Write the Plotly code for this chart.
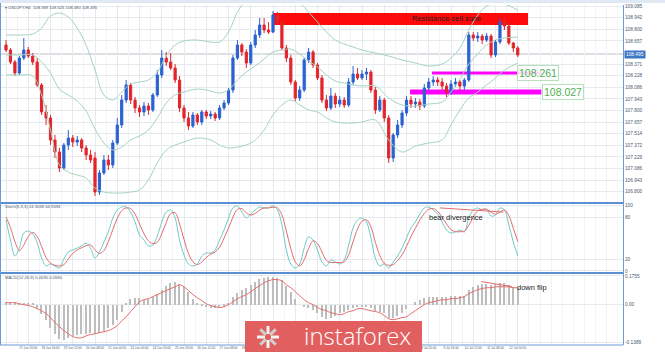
import math
import plotly.graph_objects as go
from plotly.subplots import make_subplots

bars = list(range(116))

open_ = [108.606,108.544,108.396,108.261,108.446,108.544,108.470,108.396,108.114,107.782,
107.708,107.437,107.289,107.093,107.375,107.462,107.412,107.437,107.339,107.253,
107.216,106.797,107.031,107.191,107.130,107.400,107.622,107.929,108.114,107.929,
107.831,107.782,107.855,107.806,107.991,108.237,108.446,108.396,108.323,108.175,
107.831,107.708,107.609,107.745,107.658,107.782,107.732,107.757,107.708,107.831,
107.892,108.052,108.446,108.606,108.519,108.384,108.606,108.729,108.852,108.790,
108.765,108.974,108.888,108.569,108.446,108.150,107.954,108.052,108.421,108.519,
108.360,108.200,107.929,107.831,107.978,107.880,107.929,107.868,108.150,108.249,
108.200,108.249,108.273,108.052,107.806,107.929,107.708,107.216,107.499,107.622,
107.769,107.929,107.880,107.904,107.855,108.077,108.150,108.175,108.150,108.101,
108.027,108.126,108.150,108.101,108.175,108.729,108.692,108.716,108.667,108.716,
108.483,108.643,108.888,108.839,108.630,108.569]

high = [108.667,108.569,108.421,108.470,108.692,108.581,108.507,108.446,108.138,107.868,
107.745,107.499,107.339,107.400,107.560,107.499,107.486,107.462,107.375,107.314,
107.289,107.068,107.253,107.253,107.437,107.708,107.991,108.175,108.138,107.966,
107.868,107.904,107.892,108.015,108.298,108.544,108.519,108.507,108.372,108.224,
107.868,107.782,107.782,107.769,107.806,107.806,107.794,107.782,107.868,107.929,
108.077,108.483,108.667,108.630,108.556,108.643,108.790,108.938,108.938,108.888,
109.024,109.011,108.913,108.606,108.483,108.175,108.101,108.446,108.569,108.544,
108.384,108.237,107.991,108.077,108.015,107.978,107.966,108.200,108.347,108.323,
108.298,108.323,108.298,108.089,107.978,107.954,107.745,107.523,107.683,107.806,
107.978,107.978,107.954,107.941,108.126,108.200,108.224,108.212,108.200,108.138,
108.175,108.200,108.175,108.200,108.765,108.765,108.765,108.741,108.753,108.741,
108.667,108.938,108.938,108.888,108.643,108.593]

low = [108.519,108.372,108.224,108.237,108.421,108.446,108.360,108.089,107.745,107.622,
107.375,107.216,107.043,107.068,107.314,107.351,107.363,107.289,107.191,107.154,
106.748,106.760,107.006,107.068,107.093,107.375,107.585,107.892,107.880,107.769,
107.720,107.732,107.745,107.782,107.966,108.200,108.347,108.298,108.138,107.782,
107.658,107.560,107.585,107.622,107.622,107.695,107.695,107.671,107.683,107.806,
107.868,108.015,108.421,108.470,108.323,108.360,108.569,108.692,108.753,108.741,
108.753,108.852,108.544,108.396,108.114,107.917,107.917,108.027,108.384,108.323,
108.175,107.892,107.794,107.806,107.831,107.843,107.831,107.843,108.114,108.175,
108.175,108.175,108.015,107.757,107.782,107.658,107.154,107.166,107.462,107.585,
107.732,107.831,107.831,107.806,107.831,108.040,108.101,108.101,108.052,107.966,
107.991,108.089,108.052,108.052,108.150,108.655,108.643,108.618,108.643,108.446,
108.458,108.618,108.790,108.606,108.519,108.458]

close = [108.544,108.396,108.261,108.446,108.544,108.470,108.396,108.114,107.782,107.708,
107.437,107.289,107.093,107.375,107.462,107.412,107.437,107.339,107.253,107.191,
106.797,107.031,107.191,107.130,107.400,107.622,107.929,108.114,107.929,107.831,
107.782,107.855,107.806,107.991,108.237,108.446,108.396,108.323,108.175,107.831,
107.708,107.609,107.745,107.658,107.782,107.732,107.757,107.708,107.831,107.892,
108.052,108.446,108.606,108.519,108.384,108.606,108.729,108.852,108.790,108.765,
108.974,108.888,108.569,108.446,108.150,107.954,108.052,108.421,108.519,108.360,
108.200,107.929,107.831,107.978,107.880,107.929,107.868,108.150,108.249,108.200,
108.249,108.273,108.052,107.806,107.929,107.708,107.216,107.499,107.622,107.769,
107.929,107.880,107.904,107.855,108.077,108.150,108.175,108.150,108.101,108.027,
108.126,108.150,108.101,108.175,108.729,108.692,108.716,108.667,108.716,108.483,
108.643,108.888,108.839,108.630,108.569,108.483]

# Bollinger bands read at selected bars
bb_bars = [0,3,6,8,10,12,14,16,18,20,22,24,26,28,30,32,34,36,38,40,
           43,46,48,50,52,54,56,58,60,62,64,66,68,70,72,74,76,78,80,83,
           86,89,92,95,98,100,102,104,106,108,110,112,115]
bb_upper = [108.729,108.729,108.741,108.815,108.962,108.999,108.950,108.815,108.606,108.298,
            107.991,107.929,108.027,108.126,108.150,108.175,108.273,108.470,108.606,108.655,
            108.667,108.643,108.643,108.765,109.011,109.159,109.257,109.307,109.282,109.208,
            109.184,109.122,109.011,108.888,108.765,108.667,108.618,108.581,108.544,108.507,
            108.470,108.421,108.384,108.347,108.372,108.446,108.569,108.790,108.974,109.085,
            109.122,109.110,109.036]
bb_middle = [108.483,108.483,108.483,108.396,108.261,108.064,107.991,107.917,107.794,107.572,
             107.400,107.314,107.351,107.437,107.486,107.560,107.708,107.892,107.991,108.027,
             108.064,108.040,108.015,108.052,108.175,108.273,108.347,108.433,108.519,108.544,
             108.556,108.495,108.409,108.335,108.237,108.163,108.138,108.114,108.101,108.101,
             107.954,107.868,107.855,107.880,107.904,108.027,108.187,108.372,108.495,108.606,
             108.667,108.692,108.704]
bb_lower = [108.237,108.237,108.224,107.991,107.560,107.130,107.043,107.006,106.970,106.847,
            106.797,106.785,106.785,106.797,106.822,106.945,107.154,107.314,107.375,107.412,
            107.462,107.437,107.375,107.339,107.351,107.375,107.437,107.560,107.745,107.868,
            107.929,107.868,107.806,107.782,107.708,107.658,107.646,107.646,107.658,107.683,
            107.437,107.289,107.363,107.400,107.437,107.622,107.806,107.954,108.027,108.114,
            108.200,108.298,108.384]

stoch_k = [75.7,47.1,24.3,35.7,57.1,60,55.7,42.9,21.4,10,12.9,10,7.1,20,30,32.9,35.7,38.6,42.9,35.7,
           21.4,30,44.3,58.6,78.6,90,94.3,94.3,87.1,72.9,54.3,47.1,38.6,40,52.9,72.9,87.1,90,78.6,47.1,
           25.7,12.9,10,12.9,24.3,28.6,28.6,32.9,47.1,61.4,78.6,92.9,95.7,87.1,78.6,84.3,90,94.3,92.9,92.9,
           95.7,90,68.6,32.9,12.9,7.1,12.9,35.7,51.4,47.1,32.9,15.7,10,18.6,15.7,12.9,18.6,40,64.3,75.7,
           78.6,72.9,50,21.4,10,12.9,7.1,15.7,24.3,35.7,50,64.3,72.9,84.3,92.9,94.3,90,84.3,72.9,61.4,
           57.1,58.6,61.4,58.6,78.6,90,92.9,90,91.4,81.4,82.9,92.9,90,68.6,44.3,24.3]
stoch_d = [80,65,45,32,40,52,58,52,38,22,14,11,10,12,20,28,33,36,39,40,
           33,28,32,45,62,78,89,93,92,84,70,56,46,42,44,56,72,85,86,70,
           48,28,16,12,16,22,27,30,37,50,64,80,91,92,86,83,85,90,93,93,
           94,93,83,60,35,16,10,19,35,46,42,30,18,15,15,15,16,26,45,63,
           74,76,66,44,25,14,11,12,18,26,38,52,64,76,85,91,92,88,80,70,
           62,59,59,60,68,80,89,91,91,87,84,87,90,82,64,45]

macd_hist = [0.010,0.010,0.007,0.003,0.007,0.007,0.003,-0.010,-0.031,-0.052,
             -0.080,-0.101,-0.118,-0.121,-0.115,-0.108,-0.104,-0.101,-0.101,-0.097,
             -0.101,-0.097,-0.090,-0.080,-0.069,-0.052,-0.024,0.007,0.021,0.024,
             0.024,0.017,0.021,0.028,0.038,0.052,0.066,0.076,0.080,0.073,
             0.062,0.045,0.021,0.003,-0.003,-0.007,-0.010,-0.010,-0.007,-0.003,
             0.003,0.028,0.042,0.052,0.059,0.069,0.080,0.090,0.094,0.097,
             0.097,0.094,0.087,0.066,0.045,0.021,0.0,-0.007,-0.010,-0.017,
             -0.028,-0.042,-0.049,-0.045,-0.038,-0.028,-0.024,-0.017,-0.010,-0.007,
             -0.007,-0.007,-0.010,-0.021,-0.024,-0.028,-0.045,-0.045,-0.038,-0.028,
             -0.014,0.0,0.010,0.017,0.024,0.028,0.028,0.028,0.028,0.028,
             0.031,0.031,0.031,0.031,0.052,0.062,0.069,0.073,0.073,0.069,
             0.073,0.076,0.076,0.069,0.062,0.059]
macd_signal = [0.007,0.007,0.007,0.003,0.0,-0.003,-0.007,-0.014,-0.021,-0.031,
               -0.045,-0.062,-0.076,-0.090,-0.101,-0.111,-0.115,-0.115,-0.108,-0.104,
               -0.101,-0.097,-0.094,-0.090,-0.083,-0.073,-0.056,-0.042,-0.024,-0.007,
               0.010,0.017,0.021,0.028,0.035,0.042,0.049,0.056,0.062,0.069,
               0.062,0.049,0.035,0.024,0.014,0.003,-0.003,-0.007,-0.010,-0.007,
               0.0,0.010,0.021,0.028,0.035,0.045,0.056,0.066,0.076,0.083,
               0.087,0.087,0.083,0.069,0.059,0.045,0.031,0.017,0.007,0.0,
               -0.010,-0.017,-0.021,-0.028,-0.031,-0.035,-0.031,-0.024,-0.021,-0.014,
               -0.014,-0.017,-0.021,-0.024,-0.028,-0.038,-0.049,-0.052,-0.049,-0.045,
               -0.042,-0.031,-0.021,-0.010,0.0,0.007,0.010,0.014,0.017,0.017,
               0.021,0.021,0.024,0.028,0.038,0.045,0.052,0.056,0.059,0.059,
               0.062,0.062,0.062,0.062,0.059,0.059]

x_tick_bars = list(range(0, 116, 5))
x_tick_labels = ["17 Jun 2019","17 Jun 20:00","18 Jun 16:00","19 Jun 12:00","20 Jun 08:00",
                 "21 Jun 04:00","24 Jun 00:00","24 Jun 20:00","25 Jun 16:00","26 Jun 12:00",
                 "27 Jun 08:00","28 Jun 04:00","1 Jul 00:00","1 Jul 20:00","2 Jul 16:00",
                 "3 Jul 12:00","4 Jul 08:00","5 Jul 04:00","8 Jul 00:00","8 Jul 20:00",
                 "9 Jul 16:00","10 Jul 12:00","11 Jul 08:00","12 Jul 04:00"]
price_ticks = [109.085,108.942,108.800,108.657,108.371,108.228,108.086,107.943,
               107.800,107.657,107.514,107.372,107.229,107.086,106.943,106.800,106.657]
last_price = 108.495
level_1 = 108.261
level_2 = 108.027
zone_top = 108.999
zone_bottom = 108.852

W, H = 665, 352
def px(x):
    return x / W
def py(y):
    return 1 - y / H

fig = make_subplots(rows=3, cols=1, shared_xaxes=True, vertical_spacing=0)

band_col = '#a6d3c0'
for arr in (bb_upper, bb_middle, bb_lower):
    fig.add_trace(go.Scatter(x=bb_bars, y=arr, mode='lines', line=dict(color=band_col, width=1, shape='spline', smoothing=1.0),
                             hoverinfo='skip', showlegend=False), row=1, col=1)

fig.add_trace(go.Candlestick(x=bars, open=open_, high=high, low=low, close=close,
                             increasing=dict(line=dict(color='#2a62d0', width=1), fillcolor='#2a62d0'),
                             decreasing=dict(line=dict(color='#e2252b', width=1), fillcolor='#e2252b'),
                             whiskerwidth=0, showlegend=False, hoverinfo='skip'), row=1, col=1)

fig.add_trace(go.Scatter(x=bars, y=stoch_k, mode='lines', line=dict(color='#6fcac6', width=1, shape='spline'),
                         hoverinfo='skip', showlegend=False), row=2, col=1)
fig.add_trace(go.Scatter(x=bars, y=stoch_d, mode='lines', line=dict(color='#e46c6c', width=1, shape='spline'),
                         hoverinfo='skip', showlegend=False), row=2, col=1)

fig.add_trace(go.Bar(x=bars, y=macd_hist, marker=dict(color='#bdbdbd', line=dict(width=0)), width=0.3,
                     hoverinfo='skip', showlegend=False), row=3, col=1)
fig.add_trace(go.Scatter(x=bars, y=macd_signal, mode='lines', line=dict(color='#e46c6c', width=1, shape='spline'),
                         hoverinfo='skip', showlegend=False), row=3, col=1)

xr = [-1.35, 138.65]
xdom = [0, 623 / W]
grid = '#e6e9ee'
common_x = dict(range=xr, domain=xdom, showgrid=True, gridcolor=grid, gridwidth=1, automargin=False,
                tickvals=x_tick_bars, zeroline=False, showline=False, ticks='',
                minor=dict(dtick=2.5, tick0=0, showgrid=True, gridcolor='#f1f3f6'))
axis_font = dict(size=4.8, color='#4a5a70', family='Arial')
common_y = dict(side='right', tickfont=axis_font, showgrid=True, gridcolor=grid, automargin=False,
                zeroline=False, showline=True, linecolor='#6d9bd8', linewidth=1, ticks='')
fig.update_layout(
    xaxis=dict(**common_x, showticklabels=False, rangeslider=dict(visible=False)),
    xaxis2=dict(**common_x, showticklabels=False),
    xaxis3=dict(**common_x, showticklabels=True, ticktext=x_tick_labels, tickangle=0,
                tickfont=dict(size=3.1, color='#4a5a70', family='Arial'), ticklen=0),
    yaxis=dict(**common_y, domain=[py(203), py(5)], range=[106.662, 109.098],
               tickvals=price_ticks, ticktext=[f'{v:.3f}' for v in price_ticks]),
    yaxis2=dict(**common_y, domain=[py(273), py(203)], range=[0, 100],
                tickvals=[97, 80, 20, 3], ticktext=['100', '80', '20', '0']),
    yaxis3=dict(**common_y, domain=[py(345), py(273)], range=[-0.14, 0.11],
                tickvals=[0.10, 0, -0.132], ticktext=['0.1755', '0.00', '-0.1389']),
    width=W, height=H, margin=dict(l=0, r=0, t=0, b=0, autoexpand=False),
    plot_bgcolor='white', paper_bgcolor='white', bargap=0, showlegend=False,
)

shapes = []
# resistance zone
shapes.append(dict(type='rect', xref='x', yref='y', x0=60.0, x1=117.3, y0=zone_bottom, y1=zone_top,
                   fillcolor='#ff0a0a', line=dict(width=0), layer='between'))
# support levels
shapes.append(dict(type='line', xref='x', yref='y', x0=95.7, x1=120.3, y0=level_1, y1=level_1,
                   line=dict(color='#ff00ff', width=3), layer='between'))
shapes.append(dict(type='line', xref='x', yref='y', x0=90.8, x1=120.3, y0=level_2, y1=level_2,
                   line=dict(color='#ff00ff', width=5), layer='between'))
# current price line
shapes.append(dict(type='line', xref='paper', yref='y', x0=0, x1=623 / W, y0=last_price, y1=last_price,
                   line=dict(color='#b9bec6', width=1), layer='between'))
# divergence lines
shapes.append(dict(type='line', xref='x', yref='y2', x0=97.5, x1=111.8, y0=93, y1=87,
                   line=dict(color='#e46c6c', width=1)))
shapes.append(dict(type='line', xref='x', yref='y3', x0=106.8, x1=113.7, y0=0.080, y1=0.063,
                   line=dict(color='#e46c6c', width=1)))
# panel separators and frame
for yy in (203, 273):
    shapes.append(dict(type='line', xref='paper', yref='paper', x0=0, x1=623 / W, y0=py(yy), y1=py(yy),
                       line=dict(color='#5b8fd4', width=2)))
shapes.append(dict(type='line', xref='paper', yref='paper', x0=0, x1=623 / W, y0=py(345), y1=py(345),
                   line=dict(color='#6d9bd8', width=1)))
shapes.append(dict(type='line', xref='paper', yref='paper', x0=0.5 / W, x1=0.5 / W, y0=py(345), y1=py(3),
                   line=dict(color='#6d9bd8', width=1)))
shapes.append(dict(type='rect', xref='paper', yref='paper', x0=0, x1=1, y0=py(3), y1=1,
                   fillcolor='#dfe8f3', line=dict(width=0)))
# logo box
shapes.append(dict(type='rect', xref='paper', yref='paper', x0=px(245), x1=px(422), y0=0, y1=py(321),
                   fillcolor='#e25f5f', opacity=1, layer='above', line=dict(width=0)))
cx, cy, r = 268, 337, 11
for k in range(8):
    a = k * math.pi / 4
    shapes.append(dict(type='line', xref='paper', yref='paper', layer='above', opacity=1,
                       x0=px(cx + 3 * math.cos(a)), y0=py(cy + 3 * math.sin(a)),
                       x1=px(cx + r * math.cos(a)), y1=py(cy + r * math.sin(a)),
                       line=dict(color='#f4f4f4' if k % 2 == 0 else '#cfcfcf', width=3)))
fig.update_layout(shapes=shapes)

def note(x, y, text, size=7.5, color='#222', xanchor='center', yref='paper', **kw):
    return dict(x=x, y=y, xref='paper', yref=yref, text=text, showarrow=False,
                xanchor=xanchor, yanchor='middle', font=dict(size=size, color=color, family='Arial'), **kw)

ann = []
ann.append(note(px(446), py(19), 'Resistance-sell zone'))
ann.append(note(px(538), level_1, '108.261', size=10.5, color='#4cb050', yref='y',
                bgcolor='rgba(255,255,255,0.85)', bordercolor='#b6e0b8', borderwidth=1, borderpad=1))
ann.append(note(px(563), level_2, '108.027', size=10.5, color='#4cb050', yref='y',
                bgcolor='rgba(255,255,255,0.85)', bordercolor='#b6e0b8', borderwidth=1, borderpad=1))
ann.append(note(px(624), last_price, '108.495', size=4.8, color='white', xanchor='left', yref='y',
                bgcolor='#3d78c6', borderpad=1))
ann.append(note(px(427), py(217), 'bear divergence', xanchor='left'))
ann.append(note(px(515), py(287), 'down flip', xanchor='left'))
ann.append(note(px(3), py(7), '▾ USDJPY,H4  108.589 108.625 108.480 108.495', size=4.2, color='#4a5a70', xanchor='left'))
ann.append(note(px(3), py(207), 'Stoch(5,3,3) 24.3068 44.9494', size=4.2, color='#4a5a70', xanchor='left'))
ann.append(note(px(3), py(277), 'MACD(12,26,9) 0.0590 0.0590', size=4.2, color='#4a5a70', xanchor='left'))
logo = dict(x=px(357), y=py(335), xref='paper', yref='paper', text='instaforex', showarrow=False,
            xanchor='center', yanchor='middle', font=dict(size=24, color='white', family='Open Sans', weight=300))
ann.append(logo)
fig.update_layout(annotations=ann)

fig.write_html('out.html')
